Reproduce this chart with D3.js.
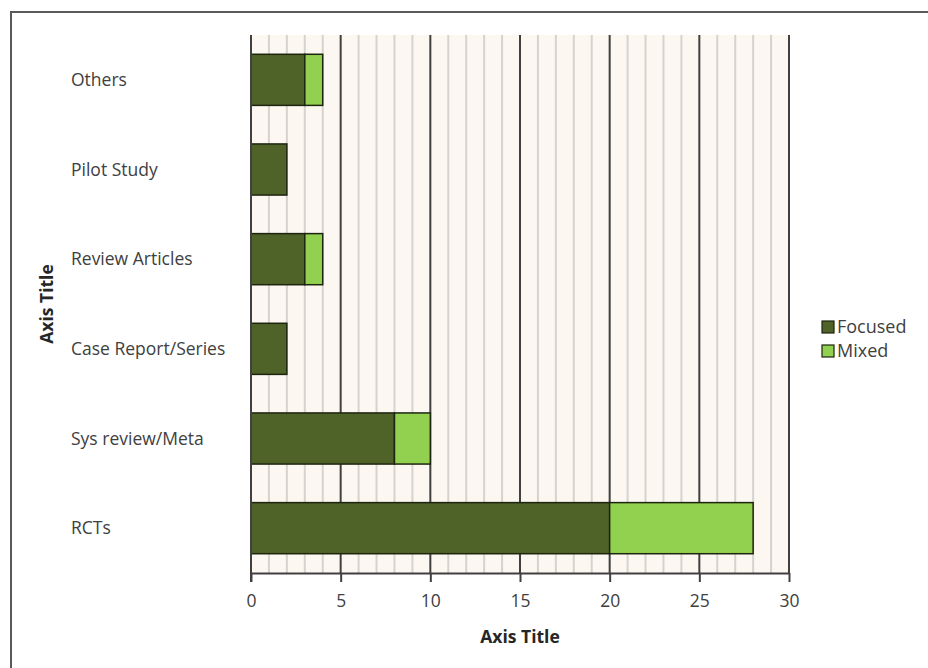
<!DOCTYPE html>
<html>
<head>
<meta charset="utf-8">
<script src="https://cdn.jsdelivr.net/npm/d3@7"></script>
<style>
  body { margin: 0; background: #fff; }
  svg { display: block; font-family: "Open Sans", "DejaVu Sans", sans-serif; }
</style>
</head>
<body>
<svg width="928" height="668"></svg>
<script>
const categories = ["Others", "Pilot Study", "Review Articles", "Case Report/Series", "Sys review/Meta", "RCTs"];
const focused = [3, 2, 3, 2, 8, 20];
const mixed = [1, 0, 1, 0, 2, 8];
const seriesNames = ["Focused", "Mixed"];
const xTicks = [0, 5, 10, 15, 20, 25, 30];

const svg = d3.select("svg");
const margin = { top: 35, right: 139, bottom: 95, left: 251 };
const width = +svg.attr("width");
const height = +svg.attr("height");

const color = d3.scaleOrdinal().domain(seriesNames).range(["#4f6228", "#92d050"]);

// outer chart frame (runs off the right and bottom edges)
svg.append("rect")
  .attr("x", 11).attr("y", 12)
  .attr("width", 940).attr("height", 700)
  .attr("fill", "none")
  .attr("stroke", "#595959")
  .attr("stroke-width", 2);

const x = d3.scaleLinear().domain([0, 30]).range([margin.left, width - margin.right]);
const y = d3.scaleBand().domain(categories).range([margin.top, height - margin.bottom]).paddingInner(0.43).paddingOuter(0.215);

// plot background
svg.append("rect")
  .attr("x", x(0)).attr("y", margin.top)
  .attr("width", x(30) - x(0)).attr("height", height - margin.bottom - margin.top)
  .attr("fill", "#fcf7f0");

// minor grid
svg.append("g")
  .selectAll("line")
  .data(d3.range(1, 30).filter(d => d % 5 !== 0))
  .join("line")
  .attr("x1", d => x(d)).attr("x2", d => x(d))
  .attr("y1", margin.top).attr("y2", height - margin.bottom)
  .attr("stroke", "#d6d3cf")
  .attr("stroke-width", 2);

// major grid
svg.append("g")
  .selectAll("line")
  .data(xTicks.filter(d => d > 0))
  .join("line")
  .attr("x1", d => x(d)).attr("x2", d => x(d))
  .attr("y1", margin.top).attr("y2", height - margin.bottom)
  .attr("stroke", "#404040")
  .attr("stroke-width", 2);

// stacked bars
const rows = categories.map((c, i) => ({ cat: c, Focused: focused[i], Mixed: mixed[i] }));
const stack = d3.stack().keys(seriesNames)(rows);

svg.append("g")
  .selectAll("g")
  .data(stack)
  .join("g")
  .attr("fill", d => color(d.key))
  .selectAll("rect")
  .data(d => d.filter(v => v[1] > v[0]))
  .join("rect")
  .attr("x", d => x(d[0]))
  .attr("y", d => y(d.data.cat))
  .attr("width", d => x(d[1]) - x(d[0]))
  .attr("height", y.bandwidth())
  .attr("stroke", "#1e2410")
  .attr("stroke-width", 1.5);

// x axis
const xAxis = svg.append("g")
  .attr("class", "x-axis")
  .attr("transform", `translate(0,${height - margin.bottom})`)
  .call(d3.axisBottom(x).tickValues(xTicks).tickSize(9).tickSizeOuter(0).tickPadding(13));
xAxis.select(".domain").attr("stroke", "#404040").attr("stroke-width", 2);
xAxis.selectAll(".tick line").attr("stroke", "#404040").attr("stroke-width", 2);
xAxis.selectAll(".tick text")
  .attr("fill", "#404040")
  .style("font-size", "17.5px")
  .style("font-family", "'Open Sans', sans-serif");

// y axis line
svg.append("line")
  .attr("x1", x(0)).attr("x2", x(0))
  .attr("y1", margin.top).attr("y2", height - margin.bottom + 9)
  .attr("stroke", "#404040")
  .attr("stroke-width", 2);

// category labels (left aligned)
svg.append("g")
  .selectAll("text")
  .data(categories)
  .join("text")
  .attr("x", 71)
  .attr("y", d => y(d) + y.bandwidth() / 2)
  .attr("dy", "0.35em")
  .attr("fill", "#404040")
  .style("font-size", "17.5px")
  .text(d => d);

// axis titles
svg.append("text")
  .attr("x", (x(0) + x(30)) / 2)
  .attr("y", 643)
  .attr("text-anchor", "middle")
  .attr("fill", "#262626")
  .style("font-size", "17.5px")
  .style("font-weight", "bold")
  .text("Axis Title");

svg.append("text")
  .attr("transform", "translate(53,304) rotate(-90)")
  .attr("text-anchor", "middle")
  .attr("fill", "#262626")
  .style("font-size", "17.5px")
  .style("font-weight", "bold")
  .text("Axis Title");

// legend
const legend = svg.append("g")
  .selectAll("g")
  .data(seriesNames)
  .join("g")
  .attr("transform", (d, i) => `translate(822,${321 + i * 24})`);
legend.append("rect")
  .attr("width", 12).attr("height", 12)
  .attr("fill", d => color(d))
  .attr("stroke", "#1e2410")
  .attr("stroke-width", 1.2);
legend.append("text")
  .attr("x", 15).attr("y", 6)
  .attr("dy", "0.35em")
  .attr("fill", "#404040")
  .style("font-size", "18px")
  .text(d => d);
</script>
</body>
</html>
